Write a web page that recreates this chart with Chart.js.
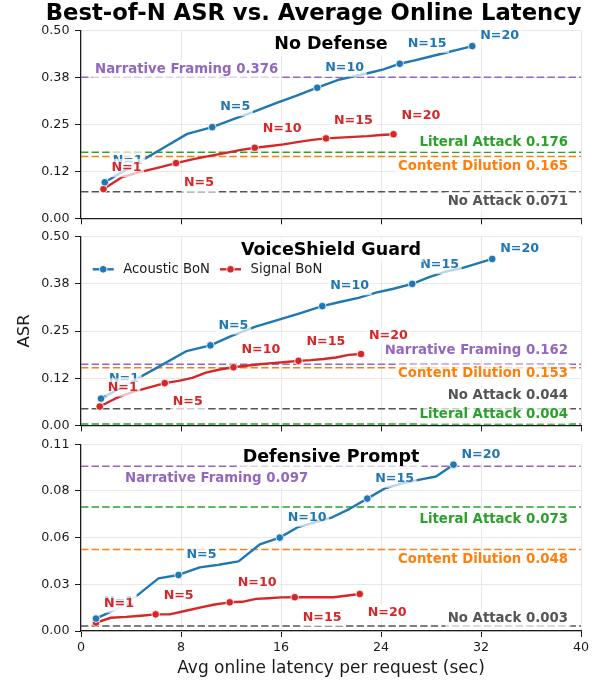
<!DOCTYPE html>
<html>
<head>
<meta charset="utf-8">
<script src="https://cdn.jsdelivr.net/npm/chart.js@4.4.0/dist/chart.umd.min.js"></script>
<style>
  html, body { margin: 0; padding: 0; background: #fff; }
  #wrap { position: relative; width: 597px; height: 682px; }
  #wrap canvas { position: absolute; left: 0; top: 0; }
</style>
</head>
<body>
<div id="wrap">
  <canvas id="c1" width="597" height="682"></canvas>
  <canvas id="c2" width="597" height="682"></canvas>
  <canvas id="c3" width="597" height="682"></canvas>
</div>
<script>
// ---- data ----
const panelTitles = ['No Defense', 'VoiceShield Guard', 'Defensive Prompt'];
const seriesNames = ['Acoustic BoN', 'Signal BoN'];
const markedN = [1, 5, 10, 15, 20];
const xTicks = [0, 8, 16, 24, 32, 40];
const yMaxes = [0.5, 0.5, 0.11];
const yTickLabelsAsr = ['0.00', '0.12', '0.25', '0.38', '0.50'];
const yTickLabelsPrompt = ['0.00', '0.03', '0.06', '0.08', '0.11'];

const refNames = ['No Attack', 'Literal Attack', 'Content Dilution', 'Narrative Framing'];
const refNoDefense = [0.071, 0.176, 0.165, 0.376];
const refGuard = [0.044, 0.004, 0.153, 0.162];
const refPrompt = [0.003, 0.073, 0.048, 0.097];

// latency (sec) and ASR for N = 1..20
const noDefAcousticLat = [1.9, 4.1, 6.3, 8.5, 10.5, 12.2, 13.9, 15.6, 17.2, 18.9, 20.7, 21.9, 23.1, 24.2, 25.5, 26.7, 27.8, 29.0, 30.1, 31.3];
const noDefAcousticAsr = [0.096, 0.139, 0.182, 0.225, 0.243, 0.264, 0.285, 0.307, 0.326, 0.348, 0.370, 0.379, 0.388, 0.397, 0.412, 0.421, 0.430, 0.440, 0.449, 0.459];
const noDefSignalLat = [1.8, 3.3, 4.7, 6.2, 7.6, 8.9, 10.1, 11.4, 12.6, 13.9, 15.0, 16.2, 17.3, 18.5, 19.6, 20.7, 21.8, 22.9, 24.0, 25.0];
const noDefSignalAsr = [0.078, 0.110, 0.123, 0.135, 0.147, 0.157, 0.165, 0.173, 0.181, 0.188, 0.192, 0.197, 0.203, 0.209, 0.213, 0.215, 0.217, 0.219, 0.222, 0.224];

const guardAcousticLat = [1.6, 3.9, 6.2, 8.45, 10.35, 12.1, 13.9, 15.7, 17.5, 19.3, 20.7, 22.2, 23.6, 25.0, 26.5, 27.8, 29.1, 30.4, 31.6, 32.9];
const guardAcousticAsr = [0.071, 0.113, 0.155, 0.197, 0.212, 0.238, 0.261, 0.279, 0.297, 0.316, 0.327, 0.338, 0.352, 0.362, 0.375, 0.392, 0.407, 0.416, 0.428, 0.441];
const guardSignalLat = [1.5, 2.8, 4.1, 5.4, 6.7, 7.8, 8.9, 10.0, 11.1, 12.2, 13.2, 14.3, 15.3, 16.4, 17.4, 18.4, 19.4, 20.4, 21.4, 22.4];
const guardSignalAsr = [0.050, 0.072, 0.088, 0.100, 0.112, 0.118, 0.126, 0.140, 0.148, 0.154, 0.158, 0.162, 0.165, 0.168, 0.171, 0.173, 0.176, 0.180, 0.187, 0.189];

const promptAcousticLat = [1.2, 2.85, 4.5, 6.2, 7.8, 9.5, 11.0, 12.6, 14.3, 15.9, 17.3, 18.7, 20.1, 21.5, 22.9, 24.3, 25.7, 27.0, 28.4, 29.8];
const promptAcousticAsr = [0.0073, 0.013, 0.021, 0.031, 0.033, 0.0375, 0.039, 0.041, 0.051, 0.055, 0.061, 0.064, 0.067, 0.072, 0.078, 0.084, 0.087, 0.089, 0.091, 0.098];
const promptSignalLat = [1.2, 2.4, 3.6, 4.8, 5.97, 7.1, 8.3, 9.5, 10.7, 11.9, 12.9, 14.0, 15.0, 16.0, 17.1, 18.1, 19.1, 20.2, 21.2, 22.3];
const promptSignalAsr = [0.0049, 0.0078, 0.0083, 0.0090, 0.0098, 0.0098, 0.0118, 0.0138, 0.0156, 0.0169, 0.0172, 0.0189, 0.0193, 0.0198, 0.0199, 0.0199, 0.0199, 0.0199, 0.0208, 0.0218];

// ---- styling ----
const BLUE = '#1f77b4', RED = '#d62728';
const refColors = ['#555555', '#2ca02c', '#ff7f0e', '#9467bd'];
const FONT = "'DejaVu Sans', sans-serif";
Chart.defaults.font.family = FONT;

// where each panel's plot area sits on the page
const areaTop = [30.7, 236.7, 444.3];
const areaBottom = [218.3, 425.4, 631];

// reference label placement: [align, x inset, dy]
const refLayouts = [
  [['right', 13, 10], ['right', 13, -10], ['right', 13, 10.6], ['left', 14, -8]],
  [['right', 13, -13], ['right', 13, -9.6], ['right', 13, 6], ['right', 13, -14]],
  [['right', 13, -7.6], ['right', 13, 12], ['right', 13, 10.5], ['left', 44, 12]]
];
// vertical offsets of the N= labels (acoustic, signal)
const nLabelDy = [
  [[-22, -20, -20, -20, -10], [-21, 20, -19, -18, -19]],
  [[-20, -20, -20, -19, -10], [-19, 19, -18, -19, -18]],
  [[-17, -20, -20, -20, -10], [-19, -19, -20, 20, 19]]
];

function pts(xs, ys) { return xs.map((x, i) => ({ x: x, y: ys[i] })); }

function boxText(ctx, text, x, y, align, font, color, size) {
  ctx.font = font;
  const w = ctx.measureText(text).width;
  const left = align === 'left' ? x : align === 'right' ? x - w : x - w / 2;
  const h = size * 1.2 + 3;
  ctx.fillStyle = 'rgba(255,255,255,0.7)';
  ctx.fillRect(left - 2.5, y - h / 2, w + 5, h);
  ctx.fillStyle = color;
  ctx.textAlign = 'left';
  ctx.textBaseline = 'middle';
  ctx.fillText(text, left, y);
}

const textPlugin = {
  id: 'panelText',
  afterDatasetsDraw(chart, args, opts) {
    const ctx = chart.ctx, xs = chart.scales.x, ys = chart.scales.y, a = chart.chartArea;
    ctx.save();
    // reference labels
    opts.refs.forEach((v, i) => {
      const [align, inset, dy] = opts.refLayout[i];
      const x = align === 'right' ? a.right - inset : a.left + inset;
      boxText(ctx, refNames[i] + ' ' + v.toFixed(3), x, ys.getPixelForValue(v) + dy,
        align, 'bold 13.3px ' + FONT, refColors[i], 13.3);
    });
    // N= labels
    opts.series.forEach((s, si) => {
      markedN.forEach((n, k) => {
        const px = xs.getPixelForValue(s.lat[n - 1]);
        const py = ys.getPixelForValue(s.asr[n - 1]);
        boxText(ctx, 'N=' + n, px + 8, py + opts.nDy[si][k], 'left', 'bold 12.7px ' + FONT, s.color, 12.7);
      });
    });
    // panel title
    boxText(ctx, opts.title, (a.left + a.right) / 2, a.top + 13.3, 'center', 'bold 17.5px ' + FONT, '#000', 17.5);
    // legend
    if (opts.legend) {
      [[BLUE, 92.7, seriesNames[0]], [RED, 220, seriesNames[1]]].forEach(([c, lx, name]) => {
        const ly = a.top + 32.6;
        ctx.strokeStyle = c; ctx.lineWidth = 2.4;
        ctx.beginPath(); ctx.moveTo(lx, ly); ctx.lineTo(lx + 21, ly); ctx.stroke();
        ctx.fillStyle = c; ctx.strokeStyle = '#fff'; ctx.lineWidth = 0.8;
        ctx.beginPath(); ctx.arc(lx + 10.5, ly, 3.8, 0, Math.PI * 2); ctx.fill(); ctx.stroke();
        ctx.fillStyle = '#1a1a1a'; ctx.font = '13.2px ' + FONT;
        ctx.textAlign = 'left'; ctx.textBaseline = 'middle';
        ctx.fillText(name, lx + 30.6, ly);
      });
    }
    // figure-level texts
    if (opts.figTitle) {
      ctx.fillStyle = '#000'; ctx.font = 'bold 22.7px ' + FONT;
      ctx.textAlign = 'center'; ctx.textBaseline = 'middle';
      ctx.fillText(opts.figTitle, 313.6, 14.5);
    }
    if (opts.yTitle) {
      ctx.save();
      ctx.translate(24.5, 331); ctx.rotate(-Math.PI / 2);
      ctx.fillStyle = '#1a1a1a'; ctx.font = '16.5px ' + FONT;
      ctx.textAlign = 'center'; ctx.textBaseline = 'middle';
      ctx.fillText(opts.yTitle, 0, 0);
      ctx.restore();
    }
    if (opts.xTitle) {
      ctx.fillStyle = '#1a1a1a'; ctx.font = '17px ' + FONT;
      ctx.textAlign = 'center'; ctx.textBaseline = 'middle';
      ctx.fillText(opts.xTitle, (a.left + a.right) / 2, 669);
    }
    ctx.restore();
  }
};

function makePanel(idx, refs, acoustic, signal, yLabels, extra) {
  const yMax = yMaxes[idx];
  const step = yMax / 4;
  const showX = idx === 2;
  const xH = showX ? 30 : 6;
  const series = [
    { name: seriesNames[0], lat: acoustic[0], asr: acoustic[1], color: BLUE },
    { name: seriesNames[1], lat: signal[0], asr: signal[1], color: RED }
  ];
  const datasets = refs.map((v, i) => ({
    label: refNames[i],
    data: [{ x: 0, y: v }, { x: 40, y: v }],
    borderColor: refColors[i],
    borderWidth: 1.5,
    borderDash: [7.4, 3.2],
    pointRadius: 0,
    order: 5
  }));
  series.forEach(s => datasets.push({
    label: s.name,
    data: pts(s.lat, s.asr),
    borderColor: s.color,
    backgroundColor: s.color,
    borderWidth: 2.4,
    borderJoinStyle: 'round',
    tension: 0,
    pointRadius: c => markedN.includes(c.dataIndex + 1) ? 3.8 : 0,
    pointBackgroundColor: s.color,
    pointBorderColor: '#fff',
    pointBorderWidth: 0.8,
    order: 1
  }));

  return new Chart(document.getElementById('c' + (idx + 1)), {
    type: 'line',
    data: { datasets: datasets },
    options: {
      responsive: false,
      animation: false,
      events: [],
      layout: { padding: { left: 31, right: 16, top: areaTop[idx], bottom: 682 - areaBottom[idx] - xH } },
      scales: {
        x: {
          type: 'linear', min: 0, max: 40,
          afterFit: s => { s.height = xH; },
          afterBuildTicks: s => { s.ticks = xTicks.map(v => ({ value: v })); },
          ticks: { display: showX, color: '#1a1a1a', font: { size: 12.7 }, padding: 3, maxRotation: 0 },
          grid: { color: '#e8e8e8', lineWidth: 1, tickColor: '#1a1a1a', tickLength: 6, tickWidth: 1 },
          border: { color: '#1a1a1a', width: 1.2 }
        },
        y: {
          min: 0, max: yMax,
          afterFit: s => { s.width = 50; },
          afterBuildTicks: s => { s.ticks = yLabels.map((t, i) => ({ value: i * step })); },
          ticks: {
            color: '#1a1a1a', font: { size: 12.7 }, padding: 5.5,
            callback: v => yLabels[Math.round(v / step)]
          },
          grid: { color: '#e8e8e8', lineWidth: 1, tickColor: '#1a1a1a', tickLength: 6, tickWidth: 1 },
          border: { color: '#1a1a1a', width: 1.2 }
        }
      },
      plugins: {
        legend: { display: false },
        tooltip: { enabled: false },
        panelText: Object.assign({
          title: panelTitles[idx],
          refs: refs,
          refLayout: refLayouts[idx],
          nDy: nLabelDy[idx],
          series: series
        }, extra)
      }
    },
    plugins: [textPlugin]
  });
}

makePanel(0, refNoDefense, [noDefAcousticLat, noDefAcousticAsr], [noDefSignalLat, noDefSignalAsr], yTickLabelsAsr,
  { figTitle: 'Best-of-N ASR vs. Average Online Latency' });
makePanel(1, refGuard, [guardAcousticLat, guardAcousticAsr], [guardSignalLat, guardSignalAsr], yTickLabelsAsr,
  { legend: true, yTitle: 'ASR' });
makePanel(2, refPrompt, [promptAcousticLat, promptAcousticAsr], [promptSignalLat, promptSignalAsr], yTickLabelsPrompt,
  { xTitle: 'Avg online latency per request (sec)' });
</script>
</body>
</html>
